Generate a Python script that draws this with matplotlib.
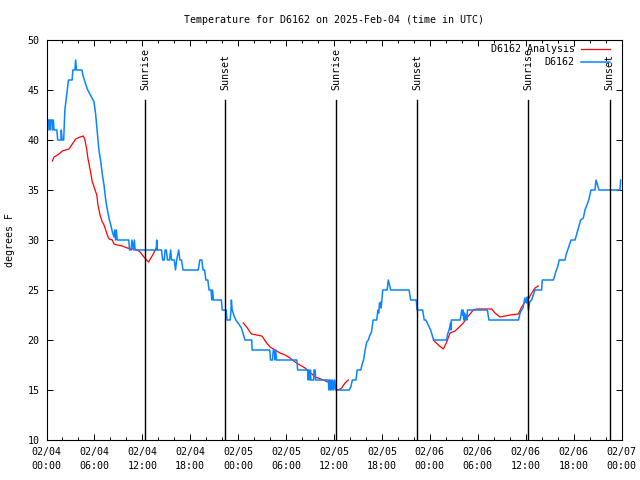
import matplotlib
matplotlib.use('Agg')
import matplotlib.pyplot as plt
import numpy as np
from matplotlib.ticker import FixedLocator, MultipleLocator

plt.rcParams['font.family'] = ['DejaVu Sans Mono']

# ---- data (hours since 2025-02-04 00:00 UTC, degrees F) ----
station_points = [
    (0.19, 41), (0.25, 42), (0.4, 42), (0.45, 41), (0.55, 42), (0.7, 42), (0.75, 41), (0.85, 42),
    (0.95, 41), (1.3, 41), (1.4, 40), (1.8, 40), (1.85, 41), (1.95, 40), (2.15, 40), (2.3, 43),
    (2.45, 44), (2.6, 45), (2.75, 46), (3.2, 46), (3.3, 47), (3.55, 47), (3.65, 48), (3.75, 47),
    (4.45, 47), (4.55, 46.5), (4.9, 45.6), (5.1, 45.1), (5.5, 44.5), (5.95, 43.8), (6.15, 42.6),
    (6.35, 40.8), (6.55, 39.1), (6.8, 37.8), (7.0, 36.5), (7.2, 35.5), (7.4, 34.1), (7.6, 33.1),
    (7.85, 32.1), (8.05, 31.5), (8.25, 30.8), (8.45, 30.3), (8.55, 31), (8.65, 30), (8.75, 31),
    (8.85, 30), (10.3, 30), (10.4, 29), (10.6, 29), (10.7, 30), (10.9, 29), (11.0, 30), (11.1, 29),
    (13.75, 29), (13.80, 30), (13.88, 29), (14.4, 29), (14.55, 28), (14.75, 28), (14.85, 29),
    (15.0, 29), (15.15, 28), (15.4, 28), (15.55, 29), (15.65, 28), (16.0, 28), (16.15, 27),
    (16.3, 28), (16.55, 29), (16.7, 28), (16.9, 28), (17.1, 27), (19.0, 27), (19.2, 28), (19.45, 28),
    (19.6, 27), (19.8, 27), (19.95, 26), (20.2, 26), (20.35, 25), (20.6, 25), (20.7, 24), (20.8, 25),
    (20.9, 24), (21.9, 24), (22.0, 23), (22.5, 23), (22.6, 22), (23.0, 22), (23.1, 23), (23.15, 24),
    (23.25, 23), (23.45, 22.5), (23.7, 22), (24.0, 21.7), (24.4, 21.2), (24.6, 20.7), (24.85, 20),
    (25.7, 20), (25.75, 19), (27.95, 19), (28.05, 18), (28.3, 18), (28.4, 19), (28.55, 19),
    (28.6, 18), (28.7, 19), (28.8, 18), (31.35, 18), (31.45, 17), (32.7, 17), (32.75, 16),
    (32.85, 17), (32.95, 16), (33.05, 17), (33.1, 16), (33.45, 16), (33.5, 17), (33.65, 17),
    (33.7, 16), (35.3, 16), (35.35, 15), (35.45, 16), (35.55, 15), (35.65, 16), (35.75, 15),
    (35.85, 16), (35.95, 15), (36.1, 16), (36.2, 15), (37.9, 15), (38.1, 15.3), (38.3, 16),
    (38.75, 16), (38.9, 17), (39.35, 17), (39.5, 17.5), (39.7, 18), (39.9, 19), (40.1, 19.8),
    (40.3, 20), (40.5, 20.5), (40.7, 20.8), (40.9, 22), (41.35, 22), (41.5, 23), (41.6, 22.7),
    (41.7, 23.7), (41.8, 23.3), (41.85, 23.8), (41.9, 23.2), (42.0, 24), (42.1, 25), (42.65, 25),
    (42.8, 26), (42.95, 25.5), (43.1, 25), (45.4, 25), (45.6, 24), (46.3, 24), (46.4, 23),
    (47.1, 23), (47.3, 22), (47.5, 22), (47.8, 21.5), (48.1, 21), (48.4, 20.2), (48.5, 20),
    (50.1, 20), (50.2, 20.5), (50.4, 21), (50.5, 21.3), (50.6, 21.7), (50.65, 21), (50.7, 22),
    (51.8, 22), (52.0, 23), (52.1, 22.5), (52.15, 23), (52.25, 22), (52.35, 22.7), (52.45, 22),
    (52.55, 22.5), (52.65, 22), (52.7, 23), (55.2, 23), (55.4, 22), (59.1, 22), (59.3, 22.7),
    (59.5, 23), (59.7, 23.3), (59.8, 23.8), (59.9, 24.2), (60.1, 23.7), (60.2, 24.3), (60.35, 23),
    (60.5, 23.8), (60.75, 24), (60.95, 24.5), (61.17, 25), (62.0, 25), (62.08, 26), (63.46, 26),
    (63.6, 26.3), (63.76, 26.8), (64.0, 27.3), (64.2, 28), (64.93, 28), (65.05, 28.5), (65.26, 29),
    (65.47, 29.5), (65.68, 30), (66.18, 30), (66.39, 30.6), (66.6, 31.2), (66.89, 32), (67.22, 32.2),
    (67.43, 33), (67.77, 33.7), (67.93, 34.1), (68.18, 35), (68.68, 35), (68.81, 36), (69.0, 35.5),
    (69.18, 35), (71.81, 35), (71.9, 36),
]

analysis_seg1 = [
    (0.73, 37.9), (0.94, 38.3), (1.57, 38.6), (1.98, 38.9), (2.40, 39.0), (2.82, 39.1), (3.23, 39.6),
    (3.66, 40.1), (4.19, 40.3), (4.61, 40.4), (4.78, 40.1), (5.03, 39.1), (5.20, 38.1), (5.45, 37.1),
    (5.74, 35.8), (6.04, 35.1), (6.29, 34.5), (6.45, 33.5), (6.70, 32.5), (6.99, 31.8), (7.20, 31.5),
    (7.41, 31.0), (7.61, 30.5), (7.83, 30.1), (8.24, 30.0), (8.45, 29.6), (8.87, 29.5), (9.49, 29.4),
    (10.12, 29.2), (10.74, 29.1), (11.37, 29.0), (11.71, 28.8), (12.2, 28.3), (12.77, 27.8),
    (13.3, 28.5), (13.80, 29.3),
]
analysis_seg2 = [
    (24.64, 21.7), (25.07, 21.3), (25.48, 20.8), (25.69, 20.6), (26.32, 20.5), (26.95, 20.4),
    (27.15, 20.2), (27.57, 19.7), (27.99, 19.3), (28.61, 19.0), (29.24, 18.7), (29.86, 18.5),
    (30.49, 18.2), (31.12, 17.8), (31.74, 17.5), (32.37, 17.2), (32.99, 16.8), (33.62, 16.3),
    (34.03, 16.2), (34.66, 16.0), (35.50, 15.7), (36.12, 15.2), (36.54, 15.0), (36.96, 15.2),
    (37.38, 15.7), (37.79, 16.0),
]
analysis_seg3 = [
    (48.43, 20.0), (49.06, 19.5), (49.69, 19.1), (50.11, 19.8), (50.53, 20.7), (51.15, 20.9),
    (51.69, 21.3), (52.19, 21.7), (52.62, 22.2), (53.03, 22.6), (53.44, 23.0), (53.87, 23.1),
    (55.75, 23.1), (56.16, 22.7), (56.79, 22.3), (57.41, 22.4), (58.04, 22.5), (59.08, 22.6),
    (59.50, 23.3), (59.92, 23.8), (60.33, 24.1), (60.76, 24.7), (61.17, 25.2), (61.58, 25.4),
]

sun_hours = [12.37, 22.39, 36.29, 46.43, 60.33, 70.52]
sun_labels = ['Sunrise', 'Sunset', 'Sunrise', 'Sunset', 'Sunrise', 'Sunset']

xtick_hours = [0, 6, 12, 18, 24, 30, 36, 42, 48, 54, 60, 66, 72]
xtick_labels = ['02/04\n00:00', '02/04\n06:00', '02/04\n12:00', '02/04\n18:00',
                '02/05\n00:00', '02/05\n06:00', '02/05\n12:00', '02/05\n18:00',
                '02/06\n00:00', '02/06\n06:00', '02/06\n12:00', '02/06\n18:00',
                '02/07\n00:00']
yticks = [10, 15, 20, 25, 30, 35, 40, 45, 50]

title = 'Temperature for D6162 on 2025-Feb-04 (time in UTC)'
ylabel = 'degrees F'

# ---- figure ----
FS = 7.2
fig = plt.figure(figsize=(6.4, 4.8), dpi=100)
ax = fig.add_axes([46.5 / 640, 40 / 480, 575 / 640, 400 / 480])

nan_sep = [(np.nan, np.nan)]
analysis = analysis_seg1 + nan_sep + analysis_seg2 + nan_sep + analysis_seg3
ah, at = zip(*analysis)
bh, bt = zip(*station_points)

ax.plot(ah, at, color='#ff0000', lw=0.9, label='D6162 Analysis')
ax.plot(bh, bt, color='#0a84ff', lw=1.1, label='D6162')

for h, lab in zip(sun_hours, sun_labels):
    ax.plot([h, h], [10, 44], color='black', lw=1.0)
    ax.text(h, 45, lab, rotation=90, ha='center', va='bottom', fontsize=FS)

ax.set_xlim(0, 72)
ax.set_ylim(10, 50)
ax.xaxis.set_major_locator(FixedLocator(xtick_hours))
ax.set_xticklabels(xtick_labels, fontsize=FS, linespacing=1.45)
ax.xaxis.set_minor_locator(MultipleLocator(2))
ax.set_yticks(yticks)
ax.set_yticklabels([str(v) for v in yticks], fontsize=FS)
ax.tick_params(which='major', direction='in', length=4, width=0.7, top=True, right=True, pad=5)
ax.tick_params(which='minor', direction='in', length=2, width=0.7, top=True, right=True)
for sp in ax.spines.values():
    sp.set_linewidth(0.8)

ax.set_ylabel(ylabel, fontsize=FS, labelpad=9)
fig.text(334 / 640, 1 - 20 / 480, title, ha='center', va='center', fontsize=FS)

ax.legend(loc='upper right', frameon=False, markerfirst=False, handlelength=2.9,
          handletextpad=0.6, borderaxespad=0.2, labelspacing=0.3, fontsize=FS,
          bbox_to_anchor=(0.99, 1.005))

fig.savefig('out.png', dpi=100)
